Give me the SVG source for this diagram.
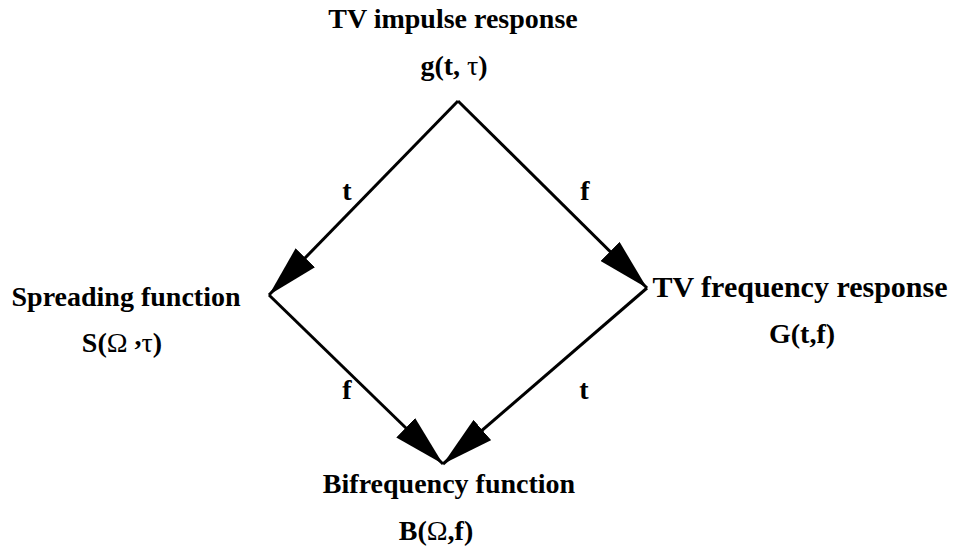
<svg xmlns="http://www.w3.org/2000/svg" width="960" height="550" viewBox="0 0 960 550">
  <style>
    text { font-family: "Liberation Serif", "DejaVu Serif", "Noto Serif", serif; font-weight: bold; font-size: 28px; fill: #000; }
    .c { text-anchor: middle; }
    .g { font-weight: normal; }
    .big { font-size: 30px; }
    .edge { stroke: #000; stroke-width: 3; fill: none; }
  </style>
  <defs>
    <marker id="head" viewBox="0 0 52 27" refX="52" refY="13.5" markerWidth="52" markerHeight="27" markerUnits="userSpaceOnUse" orient="auto">
      <path d="M0,0 L52,13.5 L0,27 Z" fill="#000"/>
    </marker>
  </defs>

  <rect width="960" height="550" fill="#fff"/>

  <g id="connectors">
    <line class="edge" x1="458" y1="101" x2="269" y2="295" marker-end="url(#head)"/>
    <line class="edge" x1="458" y1="101" x2="647" y2="288" marker-end="url(#head)"/>
    <line class="edge" x1="269" y1="295" x2="443" y2="464" marker-end="url(#head)"/>
    <line class="edge" x1="647" y1="288" x2="443" y2="464" marker-end="url(#head)"/>
    <text x="347" y="200" class="c">t</text>
    <text x="585" y="200" class="c">f</text>
    <text x="347" y="399" class="c">f</text>
    <text x="584" y="399" class="c">t</text>
  </g>

  <g id="impulse">
    <text x="453" y="28" class="c">TV impulse response</text>
    <text x="454" y="75" class="c">g(t, <tspan class="g">τ</tspan>)</text>
  </g>

  <g id="spreading">
    <text x="126" y="306" class="c">Spreading function</text>
    <text x="122" y="352" class="c">S(<tspan class="g">Ω</tspan> <tspan dy="-7">,</tspan><tspan class="g" dy="7">τ</tspan>)</text>
  </g>

  <g id="frequency">
    <text x="800" y="297" class="c big">TV frequency response</text>
    <text x="802" y="343" class="c">G(t,f)</text>
  </g>

  <g id="bifrequency">
    <text x="449" y="493" class="c">Bifrequency function</text>
    <text x="436" y="540" class="c">B(<tspan class="g">Ω</tspan>,f)</text>
  </g>
</svg>
